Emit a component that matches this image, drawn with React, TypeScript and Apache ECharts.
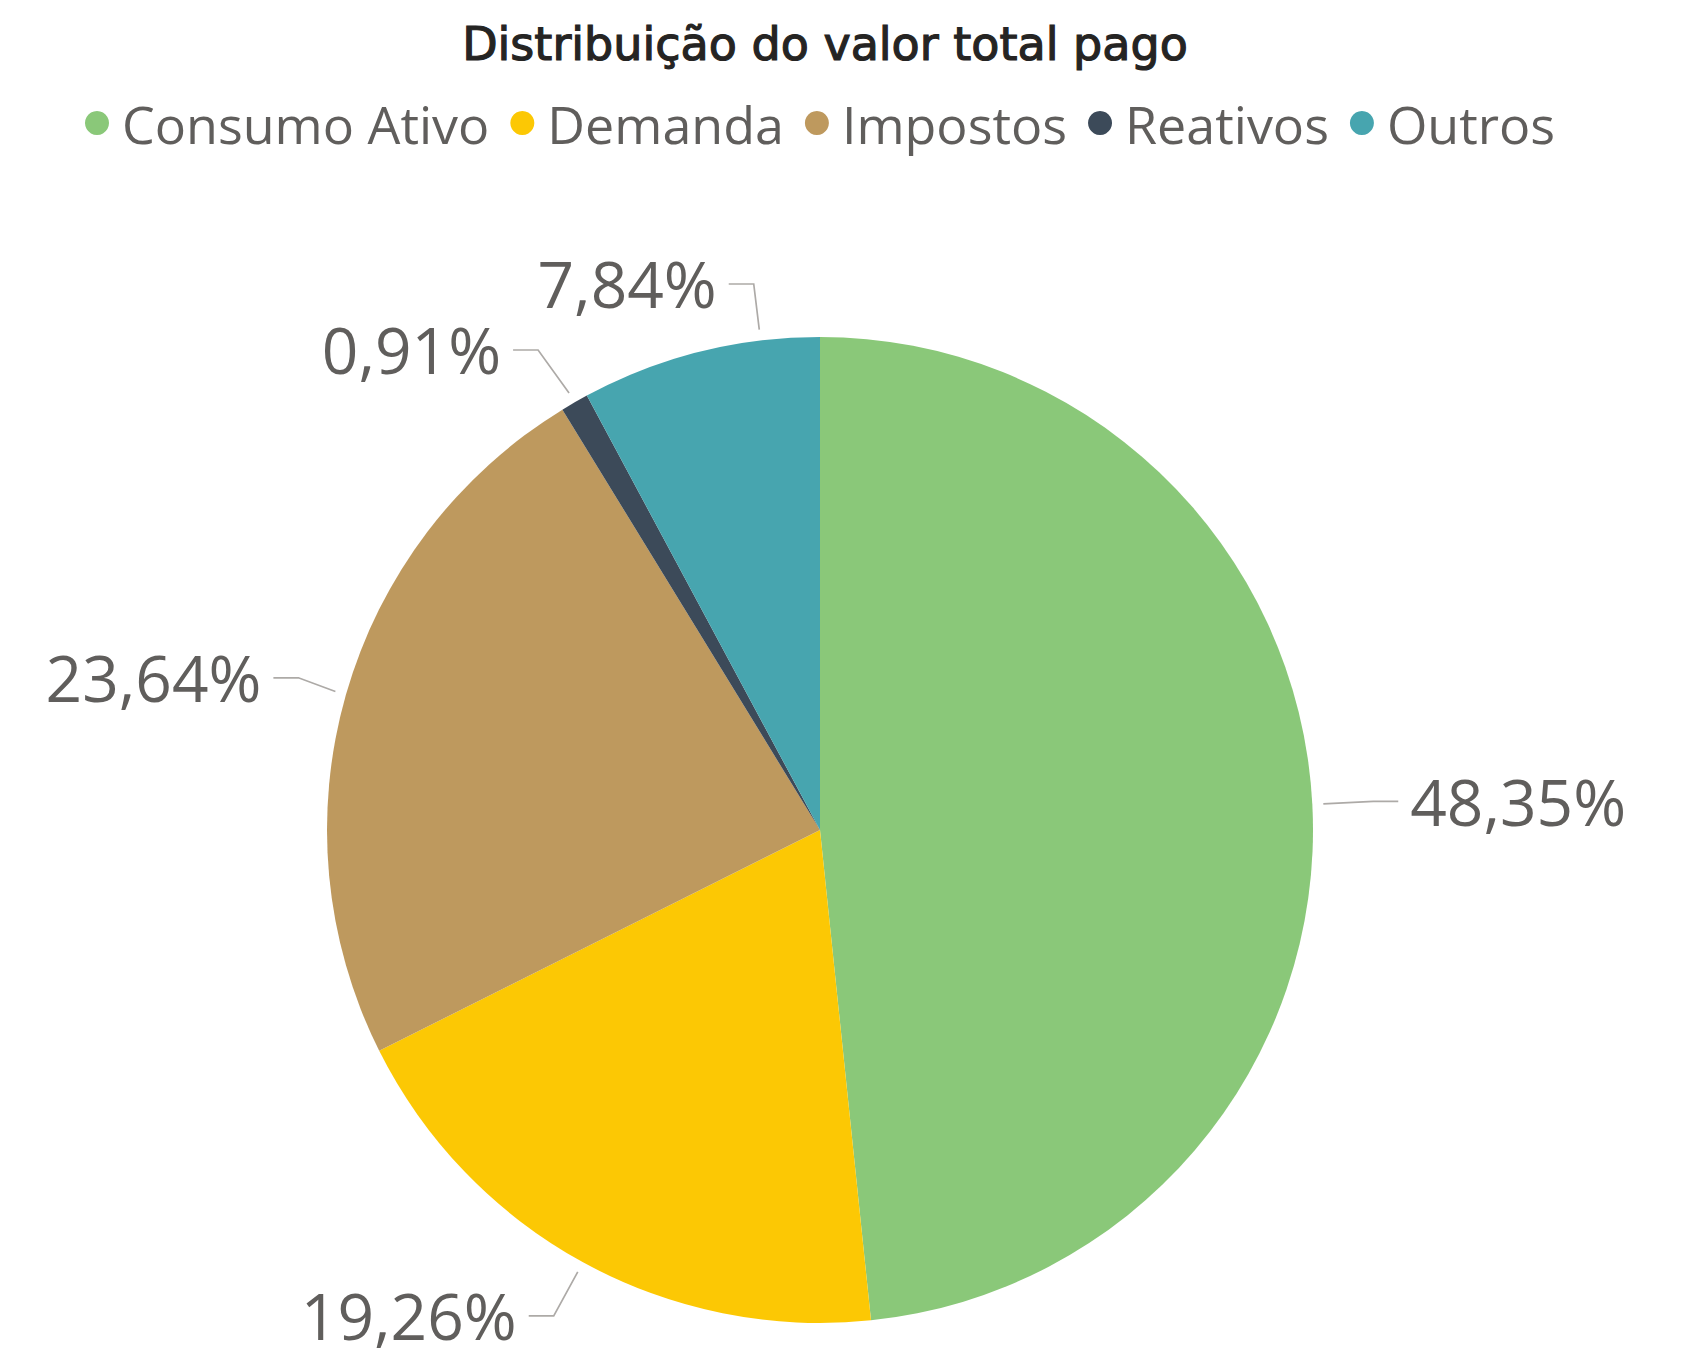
import React, { useEffect, useRef } from "react";
import * as echarts from "echarts";

const categories = ["Consumo Ativo", "Demanda", "Impostos", "Reativos", "Outros"];
const shares = [48.35, 19.26, 23.64, 0.91, 7.84];
const colors = ["#8AC879", "#FCC804", "#BE995E", "#3C4A59", "#47A5AF"];
const titleText = "Distribuição do valor total pago";

const CX = 820;
const CY = 830;
const R = 493;
const GAP = 11;

export default function App() {
  const ref = useRef<HTMLDivElement>(null);
  useEffect(() => {
    const chart = echarts.init(ref.current!, null, { renderer: "svg" });
    const outrosShift = 71;
    const pushOut = (p: number[]) => {
      const dx = p[0] - CX;
      const dy = p[1] - CY;
      const d = Math.sqrt(dx * dx + dy * dy) || 1;
      return [CX + (dx / d) * (R + GAP), CY + (dy / d) * (R + GAP)];
    };
    chart.setOption({
      animation: false,
      backgroundColor: "#ffffff",
      title: {
        text: titleText,
        left: CX,
        textAlign: "center",
        top: 16,
        textStyle: {
          fontFamily: "DejaVu Sans",
          fontWeight: "normal",
          fontSize: 46,
          color: "#252423",
          textBorderColor: "#252423",
          textBorderWidth: 1.2,
        },
      },
      legend: {
        top: 92,
        left: 80,
        icon: "circle",
        itemWidth: 24,
        itemHeight: 24,
        itemGap: 21,
        data: categories,
        textStyle: {
          fontFamily: "Open Sans",
          fontSize: 52,
          color: "#605E5C",
          padding: [0, 0, 0, 8],
        },
      },
      series: [
        {
          type: "pie",
          center: [CX, CY],
          radius: R,
          startAngle: 90,
          clockwise: true,
          avoidLabelOverlap: true,
          data: categories.map((c, i) => ({
            name: c,
            value: shares[i],
            itemStyle: { color: colors[i] },
            labelLine: c === "Outros" ? { length: 70 } : undefined,
          })),
          label: {
            show: true,
            position: "outside",
            formatter: (p: any) => p.value.toFixed(2).replace(".", ",") + "%",
            fontFamily: "Open Sans",
            fontSize: 64,
            lineHeight: 64,
            color: "#605E5C",
            distanceToLabelLine: 12,
          },
          labelLine: {
            show: true,
            length: 61,
            length2: 25,
            lineStyle: { color: "#ADAAA7", width: 1.7 },
          },
          labelLayout: (params: any) => {
            const pts = params.labelLinePoints;
            const isOutros = params.dataIndex === 4;
            const shift = isOutros ? outrosShift : 0;
            if (!pts || pts.length < 3) return isOutros ? { dx: shift } : {};
            const p1 = [pts[1][0] + shift, pts[1][1]];
            const p2 = [pts[2][0] + shift, pts[2][1]];
            const p0 = isOutros ? pushOut(p1) : pushOut(pts[0]);
            const out: any = { labelLinePoints: [p0, p1, p2] };
            if (isOutros) out.dx = shift;
            return out;
          },
        },
      ],
    });
    return () => chart.dispose();
  }, []);
  return (
    <div
      ref={ref}
      style={{ position: "absolute", left: 0, top: 0, width: 1684, height: 1371 }}
    />
  );
}
